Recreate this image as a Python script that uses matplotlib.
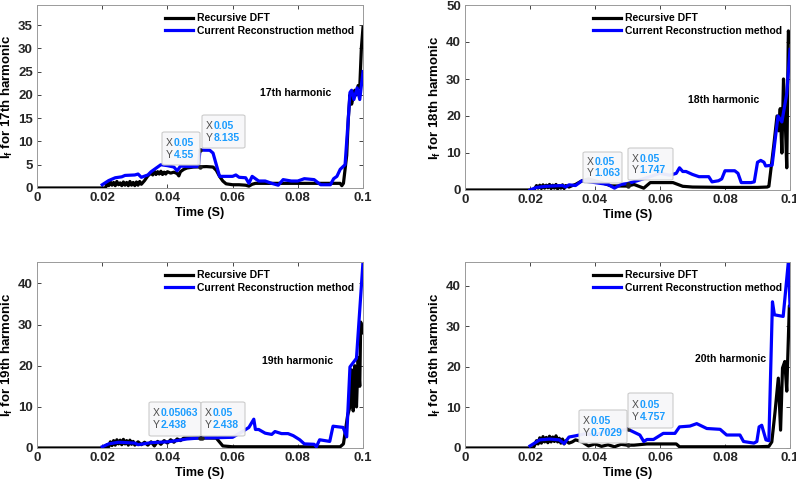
import numpy as np
import matplotlib
matplotlib.use("Agg")
import matplotlib.pyplot as plt
from matplotlib.patches import FancyBboxPatch

plt.rcParams['font.family'] = ['Liberation Sans', 'DejaVu Sans']
plt.rcParams['mathtext.fontset'] = 'custom'
plt.rcParams['mathtext.bf'] = 'Liberation Sans:bold'
plt.rcParams['mathtext.rm'] = 'Liberation Sans:bold'

W, H = 796, 482

# ---------------- data ----------------
# 17th harmonic
t_dft17 = [0, 0.021, 0.0215, 0.022, 0.0225, 0.023, 0.0235, 0.024, 0.0245, 0.025, 0.0255, 0.026,
           0.0265, 0.027, 0.0275, 0.028, 0.0285, 0.029, 0.0295, 0.030, 0.0305, 0.031, 0.0315, 0.032,
           0.033, 0.034, 0.035, 0.0355, 0.036, 0.0365, 0.037, 0.0375, 0.038, 0.0385, 0.039, 0.0395,
           0.040, 0.041, 0.042, 0.043, 0.0435, 0.044, 0.045, 0.046, 0.048, 0.050, 0.052, 0.054,
           0.055, 0.056, 0.057, 0.058, 0.060, 0.062, 0.064, 0.065, 0.066, 0.067, 0.070, 0.075,
           0.080, 0.085, 0.090, 0.093, 0.0935, 0.094, 0.095, 0.0955, 0.096, 0.0965, 0.097, 0.0975,
           0.098, 0.0985, 0.099, 0.0995, 0.1]
i_dft17 = [0, 0, 1.0, 0.5, 1.3, 0.6, 1.2, 0.5, 1.4, 0.7, 1.1, 0.5, 1.3, 0.6, 1.2, 0.5, 1.4, 0.6,
           1.2, 0.5, 1.3, 0.6, 1.4, 0.8, 1.6, 2.6, 3.2, 2.8, 3.6, 2.9, 3.5, 3.0, 3.6, 2.9, 3.4, 3.0,
           3.5, 3.2, 3.4, 3.1, 2.6, 3.5, 4.0, 4.3, 4.5, 4.55, 4.6, 4.5, 3.8, 2.5, 1.5, 0.9, 0.7, 0.7,
           0.6, 0.4, 0.8, 1.0, 1.0, 1.0, 1.0, 1.0, 1.0, 1.0, 0.5, 1.0, 7.0, 15.0, 20.0, 18.0, 19.5,
           21.0, 20.0, 22.0, 21.5, 30.0, 34.5]
t_crm17 = [0.020, 0.022, 0.024, 0.026, 0.027, 0.030, 0.031, 0.032, 0.034, 0.035, 0.037, 0.038,
           0.040, 0.042, 0.043, 0.044, 0.047, 0.0495, 0.050, 0.053, 0.054, 0.056, 0.060, 0.061,
           0.062, 0.064, 0.065, 0.066, 0.068, 0.070, 0.072, 0.074, 0.0755, 0.078, 0.080, 0.082,
           0.085, 0.087, 0.090, 0.091, 0.092, 0.093, 0.0945, 0.0955, 0.096, 0.0965, 0.0972,
           0.0982, 0.099, 0.1]
i_crm17 = [0.7, 1.6, 2.2, 2.4, 2.7, 2.8, 3.0, 2.3, 2.8, 3.5, 4.5, 5.0, 4.8, 4.5, 3.7, 4.7, 4.6,
           4.6, 8.135, 8.1, 7.5, 2.5, 2.5, 2.8, 2.3, 2.2, 1.0, 2.5, 1.5, 1.5, 1.0, 0.6, 1.8, 1.5,
           1.5, 2.0, 1.8, 0.7, 0.7, 2.0, 2.5, 4.0, 5.0, 15.0, 20.5, 21.0, 19.0, 21.5, 19.0, 25.0]

# 18th harmonic
t_dft18 = [0, 0.021, 0.0215, 0.022, 0.0225, 0.023, 0.0235, 0.024, 0.0245, 0.025, 0.0255, 0.026,
           0.0265, 0.027, 0.0275, 0.028, 0.0285, 0.029, 0.0295, 0.030, 0.0305, 0.031, 0.032,
           0.033, 0.034, 0.036, 0.038, 0.042, 0.045, 0.050, 0.052, 0.055, 0.057, 0.064, 0.067,
           0.070, 0.080, 0.090, 0.093, 0.0935, 0.095, 0.096, 0.0965, 0.097, 0.0975, 0.098, 0.0985,
           0.099, 0.0995, 0.1]
i_dft18 = [0, 0, 0.4, 1.2, 0.5, 1.3, 0.4, 1.4, 0.5, 1.3, 0.6, 1.5, 0.4, 1.3, 0.5, 1.5, 0.3, 1.2,
           0.5, 1.4, 0.4, 1.2, 0.8, 1.2, 1.5, 2.5, 3.0, 2.0, 1.1, 1.063, 1.5, 0.5, 2.0, 2.0, 1.0,
           0.8, 0.7, 0.7, 0.8, 1.0, 12.0, 20.0, 16.0, 22.0, 10.0, 30.0, 20.0, 6.0, 43.0, 40.0]
t_crm18 = [0.020, 0.022, 0.025, 0.030, 0.031, 0.032, 0.034, 0.036, 0.040, 0.044, 0.046, 0.048,
           0.050, 0.053, 0.060, 0.063, 0.065, 0.066, 0.067, 0.068, 0.070, 0.072, 0.075, 0.076,
           0.078, 0.079, 0.080, 0.083, 0.084, 0.085, 0.088, 0.089, 0.090, 0.091, 0.092, 0.0925,
           0.0945, 0.0963, 0.0975, 0.099, 0.1]
i_crm18 = [0.0, 0.7, 1.0, 1.2, 0.8, 1.4, 1.2, 2.5, 2.0, 1.5, 0.5, 1.5, 1.747, 2.5, 4.5, 4.0, 4.5,
           6.0, 5.0, 5.0, 4.2, 3.6, 3.6, 2.2, 2.5, 3.0, 5.2, 5.2, 4.5, 2.0, 2.0, 2.2, 7.5, 8.0, 7.5,
           6.5, 6.7, 20.0, 18.4, 26.0, 38.0]

# 19th harmonic
t_dft19 = [0, 0.021, 0.0215, 0.022, 0.0225, 0.023, 0.0235, 0.024, 0.0245, 0.025, 0.0255, 0.026,
           0.0265, 0.027, 0.0275, 0.028, 0.0285, 0.029, 0.0295, 0.030, 0.031, 0.032, 0.033,
           0.034, 0.035, 0.036, 0.037, 0.038, 0.039, 0.040, 0.041, 0.042, 0.043, 0.044, 0.045,
           0.050, 0.055, 0.057, 0.060, 0.070, 0.080, 0.090, 0.093, 0.094, 0.0953, 0.096, 0.0965,
           0.097, 0.0975, 0.098, 0.0985, 0.099, 0.0993, 0.1]
i_dft19 = [0, 0, 0.8, 0.3, 1.5, 0.6, 1.8, 0.7, 2.0, 1.0, 1.9, 0.8, 2.1, 1.0, 1.8, 0.7, 1.9, 0.9,
           1.6, 0.7, 1.5, 0.8, 1.4, 0.7, 1.5, 0.5, 1.6, 0.9, 1.8, 1.2, 2.0, 1.4, 2.2, 1.8, 2.4,
           2.438, 2.4, 0.5, 0.3, 0.3, 0.3, 0.3, 0.3, 1.0, 8.0, 10.0, 19.0, 9.0, 20.0, 10.0, 22.0,
           15.0, 30.6, 28.0]
t_crm19 = [0.020, 0.022, 0.025, 0.030, 0.031, 0.035, 0.040, 0.043, 0.046, 0.050, 0.055, 0.060,
           0.063, 0.065, 0.0665, 0.067, 0.068, 0.070, 0.072, 0.073, 0.075, 0.077, 0.0786, 0.0806,
           0.082, 0.085, 0.0857, 0.0867, 0.0898, 0.0908, 0.0939, 0.095, 0.096, 0.098, 0.1]
i_crm19 = [0.3, 1.0, 1.4, 1.2, 0.8, 1.3, 1.5, 1.8, 2.2, 2.438, 2.5, 2.6, 4.0, 5.0, 7.0, 4.5, 4.5,
           3.6, 3.3, 4.0, 3.5, 3.5, 3.0, 2.0, 1.0, 0.9, 0.3, 2.0, 1.6, 5.3, 5.0, 2.7, 19.7, 21.8,
           45.2]

# 20th harmonic (axis label reads 16th)
t_dft20 = [0, 0.021, 0.0215, 0.022, 0.0225, 0.023, 0.0235, 0.024, 0.0245, 0.025, 0.0255, 0.026,
           0.0265, 0.027, 0.0275, 0.028, 0.0285, 0.029, 0.0295, 0.030, 0.0305, 0.031, 0.032,
           0.033, 0.034, 0.035, 0.036, 0.038, 0.040, 0.042, 0.044, 0.046, 0.048, 0.050, 0.052,
           0.056, 0.065, 0.066, 0.070, 0.080, 0.090, 0.0935, 0.0944, 0.0954, 0.0964, 0.0971,
           0.0977, 0.0984, 0.099, 0.0998, 0.1]
i_dft20 = [0, 0, 0.8, 1.8, 1.0, 2.5, 1.2, 2.8, 1.5, 2.6, 1.3, 2.9, 1.5, 2.7, 1.6, 3.0, 1.5, 2.4,
           1.2, 2.2, 1.0, 1.8, 1.2, 1.5, 2.0, 1.8, 1.5, 0.5, 1.0, 0.4, 0.8, 0.3, 0.9, 0.7029, 0.7,
           1.0, 1.0, 0.3, 0.3, 0.3, 0.3, 0.4, 1.5, 8.9, 17.2, 4.4, 19.7, 21.3, 14.0, 35.0, 35.0]
t_crm20 = [0.020, 0.023, 0.026, 0.029, 0.0305, 0.032, 0.034, 0.037, 0.040, 0.043, 0.046, 0.0495,
           0.050, 0.0507, 0.0538, 0.055, 0.056, 0.058, 0.061, 0.0646, 0.066, 0.0692, 0.0713,
           0.0744, 0.0785, 0.0805, 0.0846, 0.0857, 0.0889, 0.0898, 0.0905, 0.0913, 0.0926,
           0.0935, 0.0946, 0.0952, 0.0979, 0.0995, 0.1]
i_crm20 = [0.5, 2.0, 2.2, 2.0, 1.1, 2.7, 3.0, 3.5, 3.2, 4.0, 4.2, 4.5, 4.757, 4.4, 3.2, 1.6, 2.1,
           2.1, 3.6, 3.6, 5.2, 5.4, 6.0, 4.8, 4.6, 3.2, 3.2, 1.6, 1.2, 1.6, 5.2, 5.6, 2.0, 1.8,
           36.0, 32.8, 32.4, 45.9, 35.0]

panels = [
    dict(td=t_dft17, yd=i_dft17, tc=t_crm17, yc=i_crm17, ylim=39.3, yt=np.arange(0, 36, 5),
         ylabel=r'I$_\mathbf{f}$ for 17th harmonic', note='17th harmonic', note_xy=(0.0684, 20.4),
         tips=[(0.05, 4.55), (0.05, 8.135)]),
    dict(td=t_dft18, yd=i_dft18, tc=t_crm18, yc=i_crm18, ylim=50, yt=np.arange(0, 51, 10),
         ylabel=r'I$_\mathbf{f}$ for 18th harmonic', note='18th harmonic', note_xy=(0.0686, 24.3),
         tips=[(0.05, 1.063), (0.05, 1.747)]),
    dict(td=t_dft19, yd=i_dft19, tc=t_crm19, yc=i_crm19, ylim=45.2, yt=np.arange(0, 41, 10),
         ylabel=r'I$_\mathbf{f}$ for 19th harmonic', note='19th harmonic', note_xy=(0.069, 21.2),
         tips=[(0.05063, 2.438), (0.05, 2.438)]),
    dict(td=t_dft20, yd=i_dft20, tc=t_crm20, yc=i_crm20, ylim=45.8, yt=np.arange(0, 41, 10),
         ylabel=r'I$_\mathbf{f}$ for 16th harmonic', note='20th harmonic', note_xy=(0.0708, 21.9),
         tips=[(0.05, 0.7029), (0.05, 4.757)]),
]

# axes boxes in figure pixels: left, top, right, bottom
boxes = [(37, 5, 363, 188), (465, 5, 790, 190), (37, 262, 363, 448), (465, 262, 790, 448)]
# datatip boxes in figure pixels: x0, y0, x1, y1
tip_boxes = [
    [(162, 132, 200, 165), (202, 115, 245, 148)],
    [(583, 152, 622, 183), (628, 148, 673, 180)],
    [(149, 402, 201, 436), (201, 402, 245, 436)],
    [(579, 410, 627, 443), (628, 393, 673, 428)],
]
tip_labels = [
    [('0.05', '4.55'), ('0.05', '8.135')],
    [('0.05', '1.063'), ('0.05', '1.747')],
    [('0.05063', '2.438'), ('0.05', '2.438')],
    [('0.05', '0.7029'), ('0.05', '4.757')],
]

fig = plt.figure(figsize=(W / 100, H / 100), dpi=100)
tipblue = '#1a9cff'

for k, p in enumerate(panels):
    l, t, r, b = boxes[k]
    ax = fig.add_axes([l / W, 1 - b / H, (r - l) / W, (b - t) / H])
    ax.plot(p['td'], p['yd'], color='black', lw=2.3, label='Recursive DFT')
    ax.plot(p['tc'], p['yc'], color='#0000ff', lw=2.3, label='Current Reconstruction method')
    ax.set_xlim(0, 0.1)
    ax.set_ylim(0, p['ylim'])
    ax.set_xticks([0, 0.02, 0.04, 0.06, 0.08, 0.1])
    ax.set_xticklabels(['0', '0.02', '0.04', '0.06', '0.08', '0.1'])
    ax.set_yticks(p['yt'])
    ax.tick_params(direction='in', length=3, width=0.6, top=True, right=True,
                   labelsize=9.5, colors='#262626', pad=3)
    for lab in ax.get_xticklabels() + ax.get_yticklabels():
        lab.set_fontweight('bold')
    for s in ax.spines.values():
        s.set_color('#9a9a9a')
        s.set_linewidth(0.7)
    ax.set_xlabel('Time (S)', fontsize=9, fontweight='bold', labelpad=2)
    ax.set_ylabel(p['ylabel'], fontsize=9.5, fontweight='bold', labelpad=2)
    ax.text(p['note_xy'][0], p['note_xy'][1], p['note'], fontsize=7.5, fontweight='bold',
            ha='left', va='center')
    ax.legend(loc='upper left', bbox_to_anchor=(0.393, 0.955), frameon=False,
              prop={'weight': 'bold', 'size': 7.5}, handlelength=2.7, handletextpad=0.4,
              labelspacing=0.25, borderpad=0, borderaxespad=0)
    for (tx, ty) in p['tips']:
        ax.plot(tx, ty, 'o', ms=2.2, color='#222222', zorder=5)
    # datatips
    for (x0, y0, x1, y1), (xs, ys) in zip(tip_boxes[k], tip_labels[k]):
        fig.add_artist(FancyBboxPatch((x0 / W, 1 - y1 / H), (x1 - x0) / W, (y1 - y0) / H,
                                      boxstyle='round,pad=0,rounding_size=0.003',
                                      transform=fig.transFigure, facecolor='#f7f7f9',
                                      edgecolor='#c9c9c9', lw=0.8, alpha=0.95))
        hh = y1 - y0
        for row, (lbl, val) in enumerate([('X', xs), ('Y', ys)]):
            yy = y0 + hh * (0.33 + 0.36 * row)
            fig.text((x0 + 4) / W, 1 - yy / H, lbl, fontsize=7.5, color='#4d4d4d',
                     ha='left', va='center')
            fig.text((x0 + 11.5) / W, 1 - yy / H, val, fontsize=7.5, color=tipblue,
                     fontweight='bold', ha='left', va='center')

fig.savefig('out.png', dpi=100)
